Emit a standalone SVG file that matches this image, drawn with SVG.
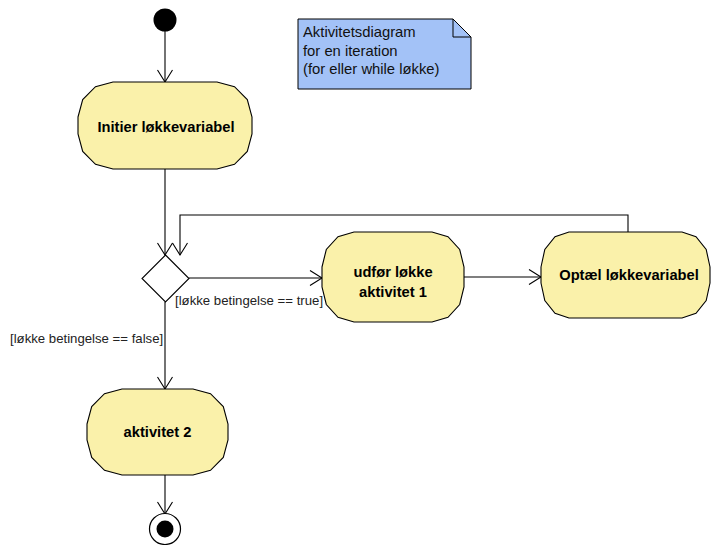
<svg xmlns="http://www.w3.org/2000/svg" width="711" height="545" viewBox="0 0 711 545">
  <style>
    .act { fill: #faf1aa; stroke: #000; stroke-width: 1.1; }
    .lbl { font-family: "Liberation Sans", Arial, sans-serif; font-size: 14.7px; font-weight: bold; fill: #000; text-anchor: middle; }
    .guard { font-family: "Liberation Sans", Arial, sans-serif; font-size: 13.2px; fill: #222; }
    .note-text { font-family: "Liberation Sans", Arial, sans-serif; font-size: 14.8px; fill: #111; }
    .edge { fill: none; stroke: #000; stroke-width: 1.1; }
  </style>
  <defs>
    <marker id="open" markerUnits="userSpaceOnUse" markerWidth="20" markerHeight="20" viewBox="-14 -10 16 20" refX="0" refY="0" orient="auto">
      <path d="M -12 -7.5 L 0 0 L -12 7.5" fill="none" stroke="#000" stroke-width="1.1"/>
    </marker>
  </defs>

  <rect width="711" height="545" fill="#fff"/>

  <!-- note -->
  <g id="note">
    <path d="M 298 19 H 453 L 471 37 V 89 H 298 Z" fill="#a3c2f7" stroke="#000" stroke-width="1"/>
    <path d="M 453 19 V 37 H 471" fill="none" stroke="#000" stroke-width="1"/>
    <text class="note-text" x="303" y="37">Aktivitetsdiagram</text>
    <text class="note-text" x="303" y="55.5">for en iteration</text>
    <text class="note-text" x="303" y="74">(for eller while løkke)</text>
  </g>

  <!-- connectors -->
  <g id="connectors">
    <path class="edge" d="M 165 31 V 82" marker-end="url(#open)"/>
    <path class="edge" d="M 165 169 V 255" marker-end="url(#open)"/>
    <path class="edge" d="M 189 278 H 322" marker-end="url(#open)"/>
    <path class="edge" d="M 464 277 H 541" marker-end="url(#open)"/>
    <path class="edge" d="M 628 232 V 215 H 180 V 255" marker-end="url(#open)"/>
    <path class="edge" d="M 165 302 V 389" marker-end="url(#open)"/>
    <path class="edge" d="M 165 475 V 514" marker-end="url(#open)"/>
    <text class="guard" x="175" y="305">[løkke betingelse == true]</text>
    <text class="guard" x="10" y="343">[løkke betingelse == false]</text>
  </g>

  <!-- start -->
  <g id="start">
    <circle cx="165" cy="20" r="11.5" fill="#000"/>
  </g>

  <g id="initier">
    <polygon class="act" points="78,117 82.7,99.5 95.5,86.7 113,82 217,82 234.5,86.7 247.3,99.5 252,117 252,134 247.3,151.5 234.5,164.3 217,169 113,169 95.5,164.3 82.7,151.5 78,134"/>
    <text class="lbl" x="166" y="132">Initier løkkevariabel</text>
  </g>

  <g id="decision">
    <polygon points="165.5,255 189,278.5 165.5,302 142,278.5" fill="#fff" stroke="#000" stroke-width="1.1"/>
  </g>

  <g id="udfor">
    <polygon class="act" points="322,267 326.3,249.5 338,236.7 354,232 432,232 448,236.7 459.7,249.5 464,267 464,287 459.7,304.5 448,317.3 432,322 354,322 338,317.3 326.3,304.5 322,287"/>
    <text class="lbl" x="393" y="277">udfør løkke</text>
    <text class="lbl" x="393" y="297">aktivitet 1</text>
  </g>

  <g id="optael">
    <polygon class="act" points="541,267 544.8,249.5 555,236.7 569,232 682,232 696,236.7 706.2,249.5 710,267 710,283 706.2,300.5 696,313.3 682,318 569,318 555,313.3 544.8,300.5 541,283"/>
    <text class="lbl" x="629" y="280">Optæl løkkevariabel</text>
  </g>

  <g id="aktivitet2">
    <polygon class="act" points="87,424 91.7,406.5 104.5,393.7 122,389 193,389 210.5,393.7 223.3,406.5 228,424 228,440 223.3,457.5 210.5,470.3 193,475 122,475 104.5,470.3 91.7,457.5 87,440"/>
    <text class="lbl" x="157.5" y="437">aktivitet 2</text>
  </g>

  <g id="end">
    <circle cx="165" cy="529" r="15.5" fill="#fff" stroke="#000" stroke-width="1.2"/>
    <circle cx="165" cy="529" r="8.5" fill="#000"/>
  </g>
</svg>
